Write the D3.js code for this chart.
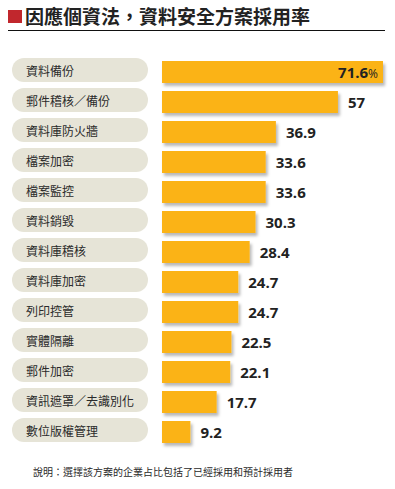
<!DOCTYPE html>
<html>
<head>
<meta charset="utf-8">
<script src="https://cdn.jsdelivr.net/npm/d3@7"></script>
<style>
html,body{margin:0;padding:0;background:#fff;}
svg{display:block;}
</style>
</head>
<body>
<svg id="chart" width="395" height="489"></svg>
<script>
const categories = ["資料備份","郵件稽核／備份","資料庫防火牆","檔案加密","檔案監控","資料銷毀","資料庫稽核","資料庫加密","列印控管","實體隔離","郵件加密","資訊遮罩／去識別化","數位版權管理"];
const values = [71.6,57,36.9,33.6,33.6,30.3,28.4,24.7,24.7,22.5,22.1,17.7,9.2];
const valueLabels = ["71.6","57","36.9","33.6","33.6","30.3","28.4","24.7","24.7","22.5","22.1","17.7","9.2"];
const title = "因應個資法，資料安全方案採用率";
const note = "說明：選擇該方案的企業占比包括了已經採用和預計採用者";

const svg = d3.select("#chart");
const cjk = "'Noto Sans CJK TC','Noto Sans CJK SC',sans-serif";
const num = "'Open Sans','Lato',sans-serif";

const defs = svg.append("defs");
const f = defs.append("filter").attr("id","sh").attr("x","-10%").attr("y","-30%").attr("width","130%").attr("height","180%");
f.append("feDropShadow").attr("dx",2).attr("dy",3).attr("stdDeviation",1.8).attr("flood-color","#000").attr("flood-opacity",0.28);

// title
svg.append("rect").attr("x",8).attr("y",10).attr("width",14).attr("height",13).attr("fill","#c1272d");
svg.append("text").attr("x",25).attr("y",23.5).attr("font-family",cjk).attr("font-weight",700)
  .attr("font-size",19).attr("fill","#222").text(title);
svg.append("line").attr("x1",8).attr("x2",385).attr("y1",30.5).attr("y2",30.5).attr("stroke","#111").attr("stroke-width",1);

const y = d3.scaleBand().domain(categories).range([61, 61+12*30+22]).paddingInner(8/30).paddingOuter(0);
const x = d3.scaleLinear().domain([0, 71.6]).range([162, 383]);
const bw = y.bandwidth();

const rows = svg.append("g").selectAll("g").data(categories).join("g");

// pills
rows.append("rect").attr("x",12).attr("y",d=>y(d)-3).attr("width",136).attr("height",24)
  .attr("rx",12).attr("ry",12).attr("fill","#e6e4d7");
rows.append("text").attr("x",26).attr("y",d=>y(d)+14.5)
  .attr("font-family",cjk).attr("font-size",12).attr("fill","#2a2a2a").text(d=>d);

// bars
rows.append("rect").attr("x",x(0)).attr("y",d=>y(d)).attr("height",bw)
  .attr("width",(d,i)=>x(values[i])-x(0)).attr("fill","#fbb317").attr("filter","url(#sh)");

// value labels
rows.each(function(d,i){
  const g = d3.select(this);
  if(i===0){
    const t = g.append("text").attr("x",378).attr("y",y(d)+16.5).attr("text-anchor","end")
      .attr("font-family",num).attr("fill","#222");
    t.append("tspan").attr("font-weight",700).attr("font-size",15).text(valueLabels[i]);
    t.append("tspan").attr("font-size",12).attr("font-weight",400).text("%");
  } else {
    g.append("text").attr("x",x(values[i])+10).attr("y",y(d)+16.5)
      .attr("font-family",num).attr("font-weight",700).attr("font-size",15).attr("fill","#222").text(valueLabels[i]);
  }
});

svg.append("text").attr("x",33).attr("y",476).attr("font-family",cjk).attr("font-size",10)
  .attr("fill","#2a2a2a").text(note);
</script>
</body>
</html>
